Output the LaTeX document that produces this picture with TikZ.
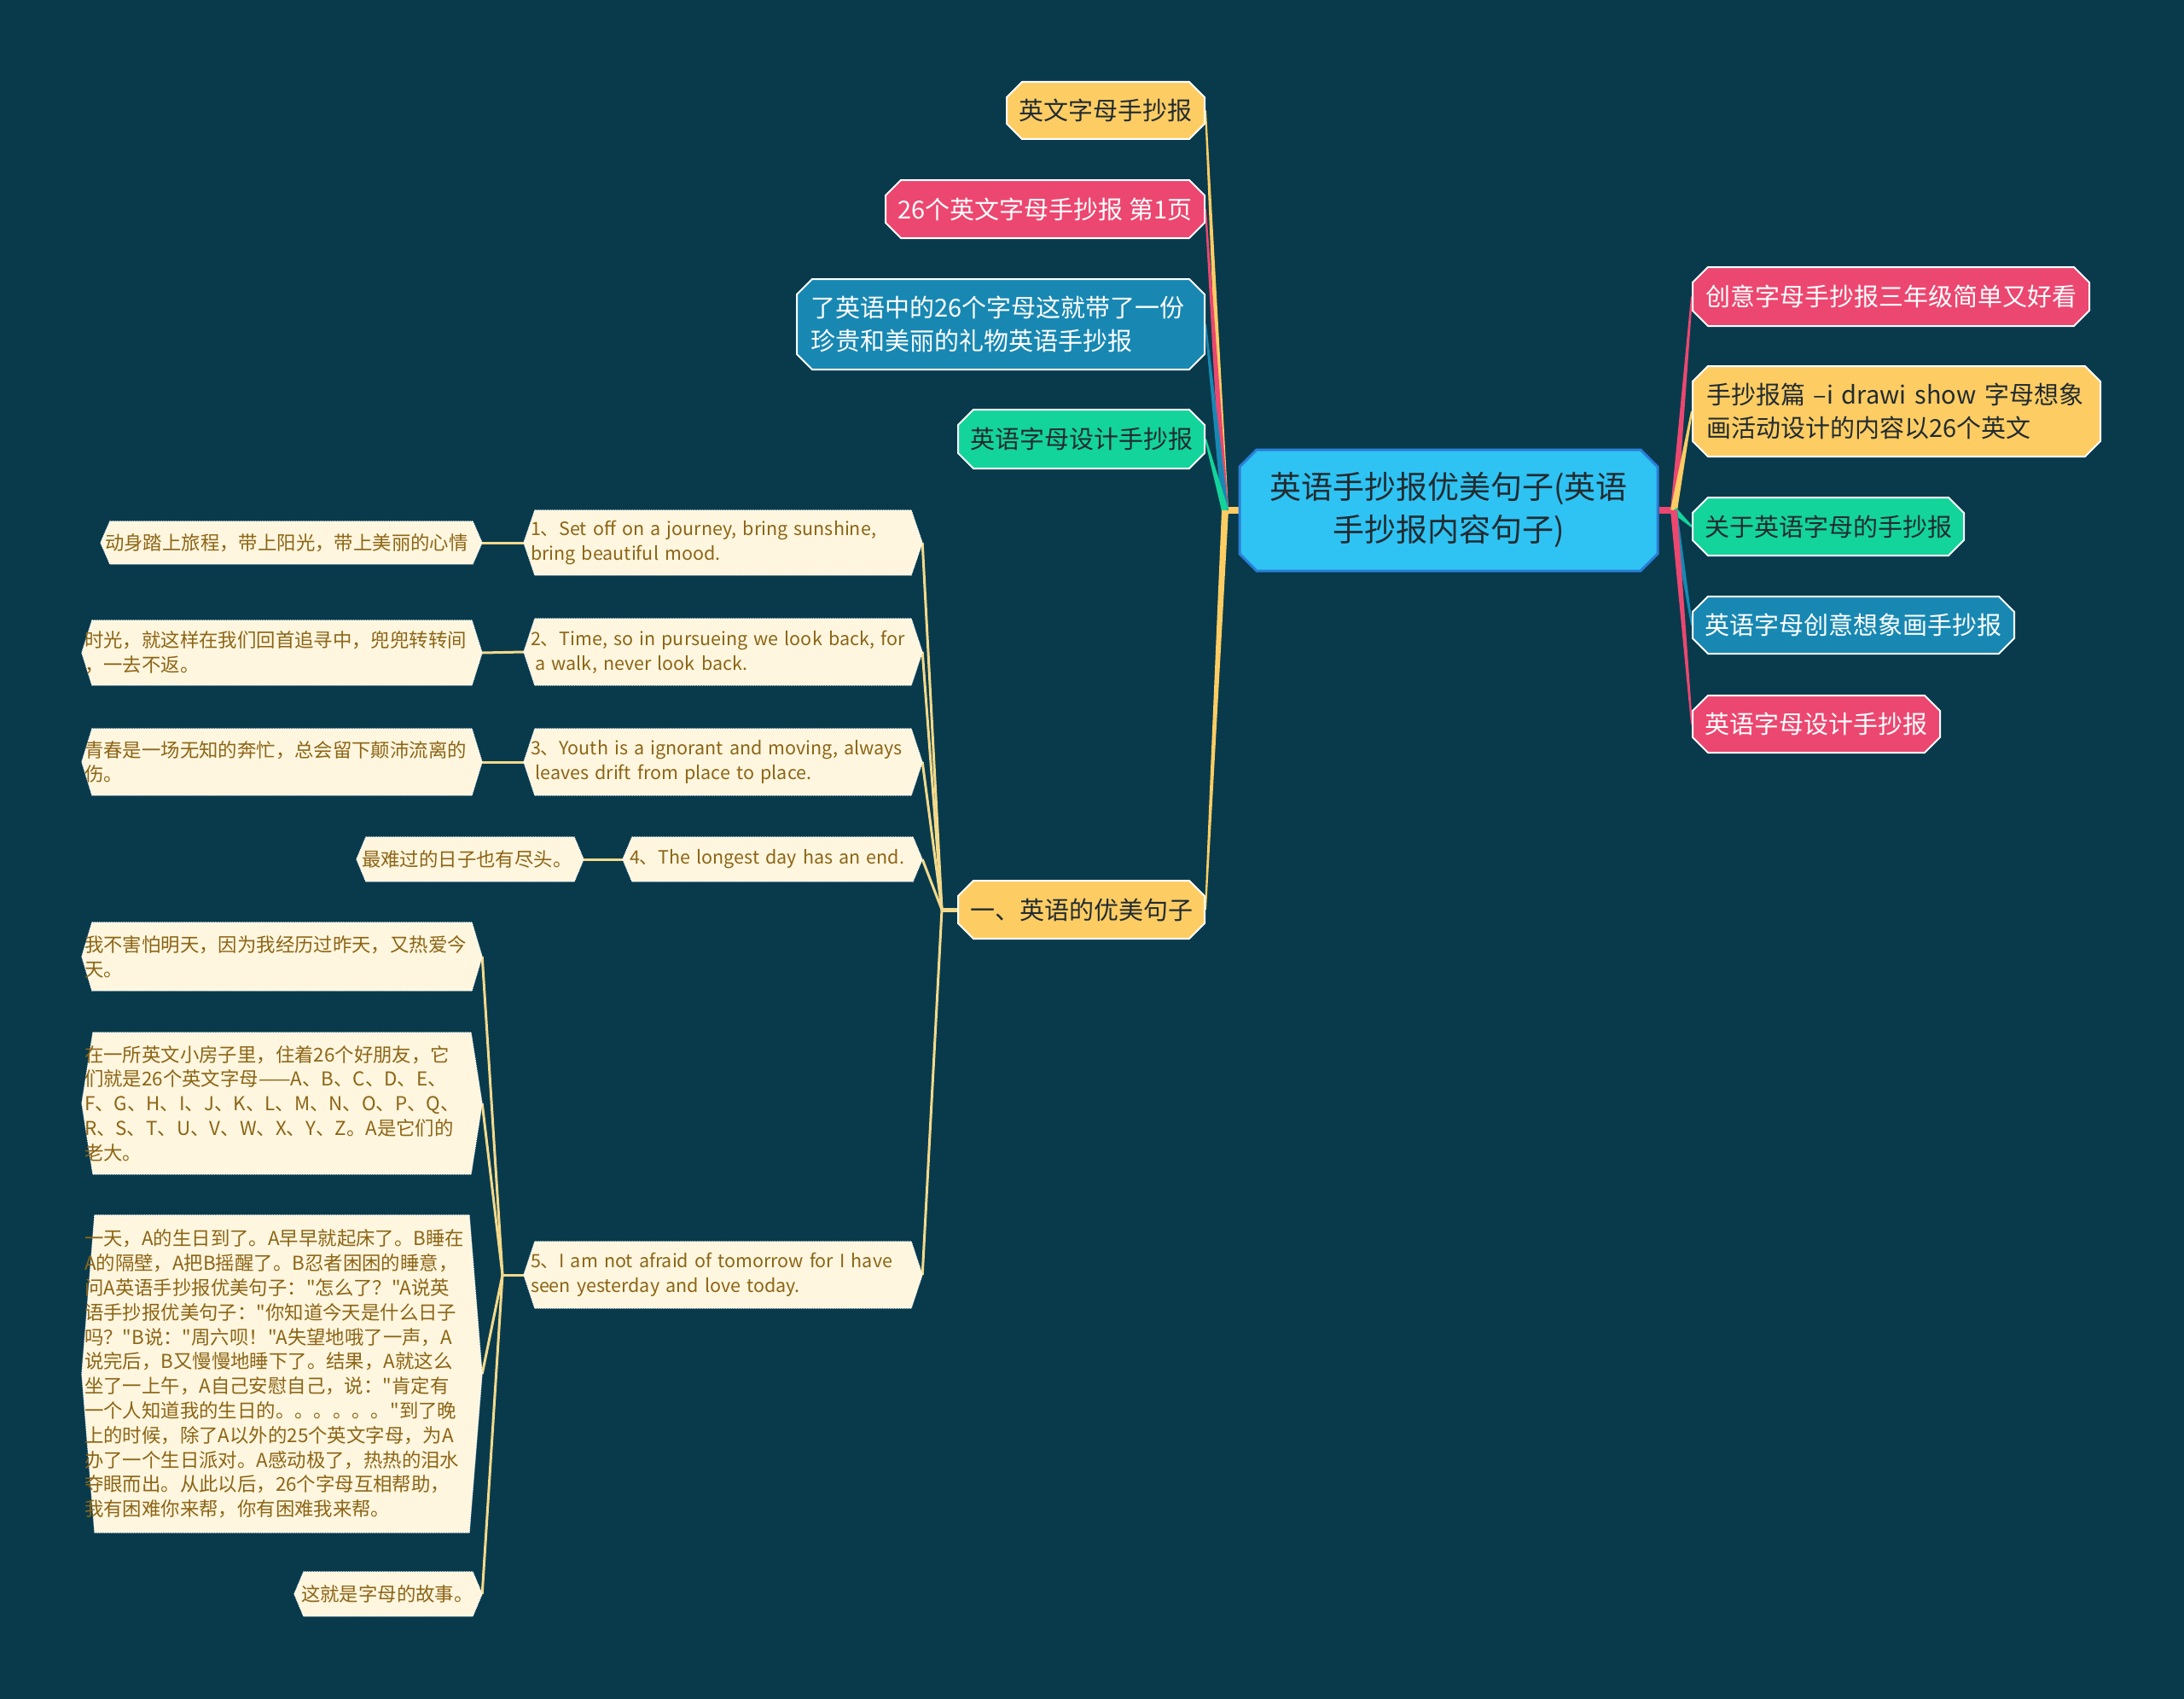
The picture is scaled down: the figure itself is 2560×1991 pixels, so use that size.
\documentclass[tikz,border=0pt]{standalone}
\usepackage{fontspec}
\newfontfamily\cjkf{Noto Sans CJK SC}
\usetikzlibrary{shapes.misc,calc}
\definecolor{bgc}{HTML}{083A4C}
\definecolor{yel}{HTML}{FDCD63}
\definecolor{pnk}{HTML}{EC4770}
\definecolor{grn}{HTML}{13D49B}
\definecolor{blu}{HTML}{1888B3}
\definecolor{rootf}{HTML}{2EC3F3}
\definecolor{rootd}{HTML}{2A7ED6}
\definecolor{crm}{HTML}{FEF6DF}
\definecolor{brn}{HTML}{8C6516}
\definecolor{pale}{HTML}{F3D98A}
\definecolor{dk}{HTML}{222B30}
\pgfdeclarelayer{back}\pgfdeclarelayer{edges}\pgfdeclarelayer{shapes}
\pgfsetlayers{back,edges,shapes,main}
\newcommand\taperlink[4]{%
  \begin{pgfonlayer}{edges}
  \fill[#1] ($(#2)!#4!90:(#3)$) -- ($(#3)!1pt!-90:(#2)$) -- ($(#3)!1pt!90:(#2)$) -- ($(#2)!#4!-90:(#3)$) -- cycle;
  \end{pgfonlayer}}
\newcommand\palelink[2]{%
  \begin{pgfonlayer}{edges}\draw[plink] (#1) -- (#2);\end{pgfonlayer}}
\newcommand\hexshape[2]{%
  \begin{pgfonlayer}{shapes}
  \filldraw[fill=crm, draw=white, densely dotted, line width=1pt] ([xshift=#2]#1.north west) -- ([xshift=-#2]#1.north east) -- (#1.east) -- ([xshift=-#2]#1.south east) -- ([xshift=#2]#1.south west) -- (#1.west) -- cycle;
  \end{pgfonlayer}}
\tikzset{
  topnode/.style={chamfered rectangle, chamfered rectangle xsep=9pt, chamfered rectangle ysep=9pt,
    draw=white, line width=2pt, inner sep=0pt, font=\cjkf\fontsize{29}{39}\selectfont},
  rootnode/.style={chamfered rectangle, chamfered rectangle xsep=10pt, chamfered rectangle ysep=10pt,
    draw=rootd, line width=3pt, fill=rootf, text=dk, inner sep=0pt, align=center,
    minimum width=490pt, minimum height=142pt, font=\cjkf\fontsize{37}{50}\selectfont},
  cream/.style={rectangle, inner xsep=8pt, inner ysep=0pt, align=left, text=brn,
    font=\cjkf\fontsize{21.5}{28.7}\selectfont},
  creamzh/.style={cream, font=\cjkf\fontsize{22.4}{28.8}\selectfont},
  plink/.style={draw=pale, line width=3pt},
}
\begin{document}
\begin{tikzpicture}[x=1pt,y=-1pt]
\useasboundingbox (0,0) rectangle (2560,1991);
\begin{pgfonlayer}{back}
\fill[bgc] (0,0) rectangle (2560,1991);
\end{pgfonlayer}

% root
\node[rootnode] (root) at (1698,598) {英语手抄报优美句子(英语\\手抄报内容句子)};

% right branch
\node[topnode, fill=pnk, text=white, minimum width=465pt, minimum height=69pt] (r1) at (2216.5,347.5) {创意字母手抄报三年级简单又好看};
\node[topnode, fill=yel, text=dk, minimum width=478pt, minimum height=106pt, align=left, text width=446pt] (r2) at (2223,482) {手抄报篇 –i drawi show 字母想象\\画活动设计的内容以26个英文};
\node[topnode, fill=grn, text=dk, minimum width=318pt, minimum height=68pt] (r3) at (2143,617) {关于英语字母的手抄报};
\node[topnode, fill=blu, text=white, minimum width=377pt, minimum height=67pt] (r4) at (2172.5,732.5) {英语字母创意想象画手抄报};
\node[topnode, fill=pnk, text=white, minimum width=290pt, minimum height=67pt] (r5) at (2129,848.5) {英语字母设计手抄报};

% left branch
\node[topnode, fill=yel, text=dk, minimum width=232pt, minimum height=67pt] (l6) at (1296,129.5) {英文字母手抄报};
\node[topnode, fill=pnk, text=white, minimum width=374pt, minimum height=68pt] (l7) at (1225,245) {26个英文字母手抄报 第1页};
\node[topnode, fill=blu, text=white, minimum width=478pt, minimum height=106pt, align=left, text width=446pt] (l8) at (1173,380) {了英语中的26个字母这就带了一份\\珍贵和美丽的礼物英语手抄报};
\node[topnode, fill=grn, text=dk, minimum width=289pt, minimum height=69pt] (l9) at (1267.5,514.5) {英语字母设计手抄报};
\node[topnode, fill=yel, text=dk, minimum width=289pt, minimum height=68pt] (l10) at (1267.5,1066) {一、英语的优美句子};

% sentences
\node[cream, text width=451pt, minimum height=76pt] (s1) at (847.5,636) {1、Set off on a journey, bring sunshine,\\bring beautiful mood.};
\node[cream, text width=451pt, minimum height=78pt] (s2) at (847.5,764) {2、Time, so in pursueing we look back, for\\\hspace*{0.25em}a walk, never look back.};
\node[cream, text width=451pt, minimum height=78pt] (s3) at (847.5,893) {3、Youth is a ignorant and moving, always\\\hspace*{0.25em}leaves drift from place to place.};
\node[cream, text width=335pt, minimum height=52pt] (s4) at (905.5,1007) {4、The longest day has an end.};
\node[cream, text width=451pt, minimum height=78pt] (s5) at (847.5,1494) {5、I am not afraid of tomorrow for I have\\seen yesterday and love today.};

% leaves
\node[creamzh, inner xsep=5pt, text width=437pt, minimum height=50pt] (c1) at (341.5,636) {动身踏上旅程，带上阳光，带上美丽的心情};
\node[creamzh, inner xsep=3pt, text width=463pt, minimum height=76pt] (c2) at (330.5,765) {时光，就这样在我们回首追寻中，兜兜转转间\\，一去不返。};
\node[creamzh, inner xsep=3pt, text width=463pt, minimum height=78pt] (c3) at (330.5,893) {青春是一场无知的奔忙，总会留下颠沛流离的\\伤。};
\node[creamzh, inner xsep=6pt, text width=254pt, minimum height=52pt] (c4) at (551,1007) {最难过的日子也有尽头。};
\node[creamzh, inner xsep=3pt, text width=463pt, minimum height=80pt] (c5) at (330.5,1121) {我不害怕明天，因为我经历过昨天，又热爱今\\天。};
\node[creamzh, inner xsep=3pt, text width=463pt, minimum height=166pt] (c6) at (330.5,1293) {在一所英文小房子里，住着26个好朋友，它\\们就是26个英文字母——A、B、C、D、E、\\F、G、H、I、J、K、L、M、N、O、P、Q、\\R、S、T、U、V、W、X、Y、Z。A是它们的\\老大。};
\node[creamzh, inner xsep=3pt, text width=463pt, minimum height=372pt] (c7) at (330.5,1610) {一天，A的生日到了。A早早就起床了。B睡在\\A的隔壁，A把B摇醒了。B忍者困困的睡意，\\问A英语手抄报优美句子："怎么了？"A说英\\语手抄报优美句子："你知道今天是什么日子\\吗？"B说："周六呗！"A失望地哦了一声，A\\说完后，B又慢慢地睡下了。结果，A就这么\\坐了一上午，A自己安慰自己，说："肯定有\\一个人知道我的生日的。。。。。。"到了晚\\上的时候，除了A以外的25个英文字母，为A\\办了一个生日派对。A感动极了，热热的泪水\\夺眼而出。从此以后，26个字母互相帮助，\\我有困难你来帮，你有困难我来帮。};
\node[creamzh, inner xsep=8pt, text width=204pt, minimum height=52pt] (c8) at (455,1868) {这就是字母的故事。};

\foreach \n/\d in {s1/13,s2/13,s3/13,s4/11,s5/13,c1/11,c2/12,c3/12,c4/11,c5/12,c6/13,c7/15,c8/11}{\hexshape{\n}{\d}}

% junctions
\coordinate (jR) at (1962,598);
\coordinate (jL) at (1436,598);
\coordinate (jS) at (1104,1066);
\coordinate (j5) at (589,1494);

% root stubs
\begin{pgfonlayer}{edges}
\draw[pnk, line width=8pt] (root.east) -- (jR);
\draw[yel, line width=8pt] (root.west) -- (jL);
\end{pgfonlayer}

% right links
\taperlink{pnk}{jR}{r1.west}{4pt}
\taperlink{yel}{jR}{r2.west}{4pt}
\taperlink{grn}{jR}{r3.west}{4pt}
\taperlink{blu}{jR}{r4.west}{4pt}
\taperlink{pnk}{jR}{r5.west}{4pt}

% left links
\taperlink{yel}{jL}{l6.east}{4pt}
\taperlink{pnk}{jL}{l7.east}{4pt}
\taperlink{blu}{jL}{l8.east}{4pt}
\taperlink{grn}{jL}{l9.east}{4pt}
\taperlink{yel}{jL}{l10.east}{4pt}

% sentence links
\begin{pgfonlayer}{edges}
\draw[pale, line width=5pt] (l10.west) -- (jS);
\end{pgfonlayer}
\palelink{jS}{s1.east}
\palelink{jS}{s2.east}
\palelink{jS}{s3.east}
\palelink{jS}{s4.east}
\palelink{jS}{s5.east}

\palelink{s1.west}{c1.east}
\palelink{s2.west}{c2.east}
\palelink{s3.west}{c3.east}
\palelink{s4.west}{c4.east}

\palelink{s5.west}{j5}
\palelink{j5}{c5.east}
\palelink{j5}{c6.east}
\palelink{j5}{c7.east}
\palelink{j5}{c8.east}
\end{tikzpicture}
\end{document}
